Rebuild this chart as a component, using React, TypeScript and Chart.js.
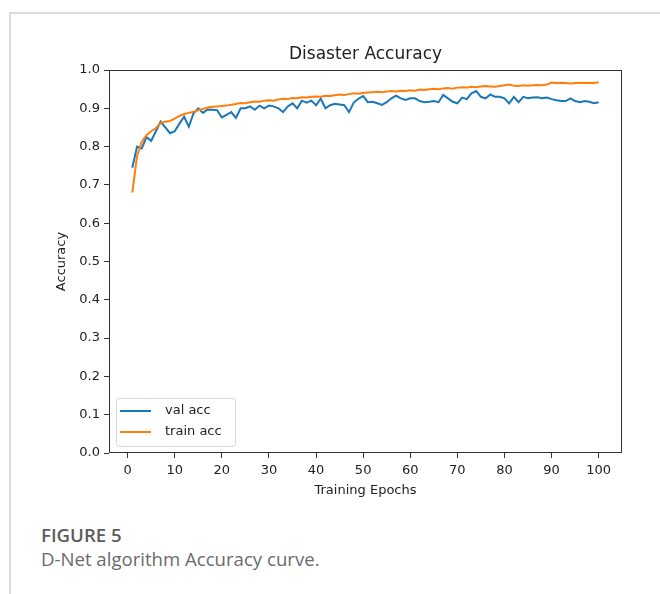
import React, { useEffect, useRef } from "react";
import { Chart, registerables } from "chart.js";
Chart.register(...registerables);

const chartTitle = "Disaster Accuracy";
const xLabel = "Training Epochs";
const yLabel = "Accuracy";
const seriesNames = ["val acc", "train acc"];
const seriesColors = ["#1a78b8", "#ff7f0e"];

const valAcc = [
  0.745, 0.80, 0.795, 0.825, 0.815, 0.84, 0.865, 0.85, 0.835, 0.84,
  0.86, 0.878, 0.852, 0.887, 0.90, 0.888, 0.897, 0.896, 0.895, 0.876,
  0.883, 0.89, 0.875, 0.90, 0.90, 0.905, 0.896, 0.907, 0.90, 0.907,
  0.905, 0.90, 0.89, 0.905, 0.913, 0.90, 0.92, 0.915, 0.92, 0.908,
  0.925, 0.90, 0.908, 0.912, 0.91, 0.908, 0.89, 0.915, 0.925, 0.932,
  0.916, 0.917, 0.913, 0.909, 0.916, 0.926, 0.933, 0.926, 0.922, 0.926,
  0.926, 0.919, 0.916, 0.917, 0.919, 0.916, 0.935, 0.926, 0.917, 0.913,
  0.928, 0.924, 0.939, 0.945, 0.93, 0.926, 0.936, 0.93, 0.93, 0.926,
  0.913, 0.93, 0.916, 0.93, 0.926, 0.928, 0.929, 0.926, 0.928, 0.924,
  0.921, 0.919, 0.919, 0.926, 0.919, 0.916, 0.919, 0.917, 0.913, 0.916,
];

const trainAcc = [
  0.68, 0.775, 0.812, 0.83, 0.84, 0.848, 0.862, 0.865, 0.867, 0.873,
  0.88, 0.885, 0.888, 0.891, 0.895, 0.898, 0.902, 0.904, 0.905, 0.906,
  0.907, 0.909, 0.911, 0.914, 0.913, 0.916, 0.918, 0.917, 0.92, 0.921,
  0.92, 0.923, 0.925, 0.924, 0.927, 0.926, 0.929, 0.928, 0.93, 0.931,
  0.93, 0.933, 0.932, 0.934, 0.936, 0.935, 0.937, 0.939, 0.938, 0.94,
  0.941, 0.942, 0.943, 0.942, 0.944, 0.945, 0.944, 0.946, 0.945, 0.947,
  0.946, 0.949, 0.948, 0.95, 0.951, 0.95, 0.952, 0.953, 0.951, 0.954,
  0.955, 0.954, 0.956, 0.955, 0.957, 0.958, 0.957, 0.956, 0.958, 0.96,
  0.962, 0.959, 0.958, 0.96, 0.959, 0.96, 0.961, 0.96, 0.962, 0.967,
  0.966, 0.967, 0.966, 0.965, 0.966, 0.967, 0.966, 0.967, 0.966, 0.968,
];

const epochs = valAcc.map((_, i) => i + 1);
const xTicks = [0, 10, 20, 30, 40, 50, 60, 70, 80, 90, 100];
const yTicks = [0, 0.1, 0.2, 0.3, 0.4, 0.5, 0.6, 0.7, 0.8, 0.9, 1.0];

const FONT = "DejaVu Sans";
const TEXT = "#222222";
const AXIS = "#333333";

const decor = {
  id: "decor",
  afterDraw(chart: any) {
    const { ctx, chartArea: a } = chart;
    ctx.save();
    // spines
    ctx.strokeStyle = AXIS;
    ctx.lineWidth = 1;
    ctx.strokeRect(Math.round(a.left) + 0.5, Math.round(a.top) + 0.5, Math.round(a.right - a.left) - 1, Math.round(a.bottom - a.top) - 1);
    // title
    ctx.fillStyle = TEXT;
    ctx.font = `17px "${FONT}"`;
    ctx.textAlign = "center";
    ctx.textBaseline = "middle";
    ctx.fillText(chartTitle, (a.left + a.right) / 2, a.top - 15);
    // legend
    const bx = a.left + 7;
    const bw = 119;
    const bh = 48;
    const by = a.bottom - 7 - bh;
    ctx.beginPath();
    ctx.roundRect(bx + 0.5, by + 0.5, bw, bh, 3);
    ctx.fillStyle = "rgba(255,255,255,0.85)";
    ctx.fill();
    ctx.strokeStyle = "#d6d6d6";
    ctx.lineWidth = 1;
    ctx.stroke();
    ctx.font = `13px "${FONT}"`;
    ctx.textAlign = "left";
    chart.data.datasets.forEach((ds: any, i: number) => {
      const yy = by + 13 + i * 21;
      ctx.strokeStyle = ds.borderColor;
      ctx.lineWidth = 2;
      ctx.beginPath();
      ctx.moveTo(bx + 4, yy);
      ctx.lineTo(bx + 35, yy);
      ctx.stroke();
      ctx.fillStyle = TEXT;
      ctx.fillText(ds.label, bx + 49, yy);
    });
    ctx.restore();
  },
};

export default function App() {
  const ref = useRef<HTMLCanvasElement>(null);
  useEffect(() => {
    const chart = new Chart(ref.current as HTMLCanvasElement, {
      type: "line",
      data: {
        datasets: [
          {
            label: seriesNames[0],
            data: epochs.map((e, i) => ({ x: e, y: valAcc[i] })),
            borderColor: seriesColors[0],
            backgroundColor: seriesColors[0],
            borderWidth: 2,
            pointRadius: 0,
            tension: 0,
            order: 1,
          },
          {
            label: seriesNames[1],
            data: epochs.map((e, i) => ({ x: e, y: trainAcc[i] })),
            borderColor: seriesColors[1],
            backgroundColor: seriesColors[1],
            borderWidth: 2,
            pointRadius: 0,
            tension: 0,
            order: 0,
          },
        ],
      },
      options: {
        animation: false,
        responsive: false,
        maintainAspectRatio: false,
        layout: { padding: { top: 70, right: 38, left: 0, bottom: 0 } },
        plugins: {
          legend: { display: false },
          title: { display: false },
          tooltip: { enabled: false },
        },
        scales: {
          x: {
            type: "linear",
            min: -3.95,
            max: 104.95,
            afterBuildTicks: (ax: any) => {
              ax.ticks = xTicks.map((v) => ({ value: v }));
            },
            afterFit: (s: any) => {
              s.height = 47;
            },
            grid: { drawOnChartArea: false, drawTicks: true, tickLength: 5, color: AXIS },
            border: { display: false },
            ticks: {
              padding: 5,
              color: TEXT,
              font: { family: FONT, size: 13 },
              maxRotation: 0,
              autoSkip: false,
              callback: (v: any) => String(v),
            },
            title: {
              display: true,
              text: xLabel,
              color: TEXT,
              font: { family: FONT, size: 13 },
              padding: { top: 0, bottom: 2 },
            },
          },
          y: {
            type: "linear",
            min: 0,
            max: 1,
            afterBuildTicks: (ax: any) => {
              ax.ticks = yTicks.map((v) => ({ value: v }));
            },
            afterFit: (s: any) => {
              s.width = 109;
            },
            grid: { drawOnChartArea: false, drawTicks: true, tickLength: 5, color: AXIS },
            border: { display: false },
            ticks: {
              padding: 4,
              color: TEXT,
              font: { family: FONT, size: 13 },
              callback: (v: any) => Number(v).toFixed(1),
            },
            title: {
              display: true,
              text: yLabel,
              color: TEXT,
              font: { family: FONT, size: 13 },
              padding: { top: 54, bottom: 0 },
            },
          },
        },
      },
      plugins: [decor],
    });
    return () => chart.destroy();
  }, []);

  return (
    <div style={{ position: "absolute", left: 0, top: 0, width: 660, height: 594, background: "#fff", overflow: "hidden" }}>
      <div style={{ position: "absolute", left: 9, top: 12, width: 651, height: 2, background: "#dcdcdc" }} />
      <div style={{ position: "absolute", left: 9, top: 12, width: 2, height: 582, background: "#dcdcdc" }} />
      <canvas ref={ref} width={660} height={500} style={{ position: "absolute", left: 0, top: 0 }} />
      <div style={{ position: "absolute", left: 41, top: 523, fontFamily: '"Open Sans", sans-serif', fontWeight: 600, fontSize: 18.6, lineHeight: "24px", color: "#5c5c5c", whiteSpace: "nowrap" }}>
        FIGURE 5
      </div>
      <div style={{ position: "absolute", left: 41, top: 547, fontFamily: '"Open Sans", sans-serif', fontWeight: 400, fontSize: 18.6, lineHeight: "24px", color: "#6b6b6b", whiteSpace: "nowrap" }}>
        D-Net algorithm Accuracy curve.
      </div>
    </div>
  );
}
